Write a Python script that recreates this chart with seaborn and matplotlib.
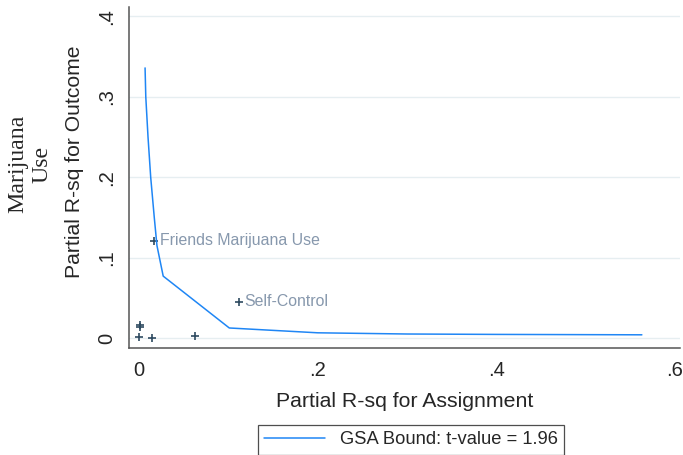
import pandas as pd
import matplotlib
matplotlib.use("Agg")
import matplotlib.pyplot as plt
import seaborn as sns

# GSA bound curve
bound_x = [0.0067, 0.0075, 0.010, 0.013, 0.017, 0.020, 0.027, 0.101, 0.20, 0.30, 0.40, 0.563]
bound_y = [0.336, 0.300, 0.250, 0.200, 0.150, 0.115, 0.077, 0.0125, 0.0065, 0.005, 0.0045, 0.004]

# covariate benchmarks
cov_x = [0.0168, 0.112, 0.0010, 0.0015, 0.0000, 0.0146, 0.063]
cov_y = [0.121, 0.045, 0.014, 0.016, 0.001, 0.000, 0.003]
cov_names = ["Friends Marijuana Use", "Self-Control", "", "", "", "", ""]

x_ticks = [0, 0.2, 0.4, 0.6]
x_labels = ["0", ".2", ".4", ".6"]
y_ticks = [0, 0.1, 0.2, 0.3, 0.4]
y_labels = ["0", ".1", ".2", ".3", ".4"]

sns.set_style("white")
plt.rcParams["font.family"] = ["Liberation Sans", "DejaVu Sans"]

fig = plt.figure(figsize=(6.83, 4.55), dpi=100)
ax = fig.add_axes([0.189, 0.235, 0.807, 0.750])

bound = pd.DataFrame({"x": bound_x, "y": bound_y})
covs = pd.DataFrame({"x": cov_x, "y": cov_y, "name": cov_names})

sns.lineplot(data=bound, x="x", y="y", ax=ax, color="#1f86f5", linewidth=1.1,
             sort=False, label="GSA Bound: t-value = 1.96", legend=False)
sns.scatterplot(data=covs, x="x", y="y", ax=ax, marker="+", s=30,
                color="#2e4a60", linewidth=1.2, legend=False)

for _, row in covs.iterrows():
    if row["name"]:
        ax.annotate(row["name"], (row["x"], row["y"]), xytext=(4, 0),
                    textcoords="offset points", va="center", ha="left",
                    fontsize=11.4, color="#8798ad")

ax.set_xlim(-0.0112, 0.606)
ax.set_ylim(-0.0125, 0.412)
ax.set_xticks(x_ticks)
ax.set_xticklabels(x_labels)
ax.set_yticks(y_ticks)
ax.set_yticklabels(y_labels, rotation=90, va="center")
ax.tick_params(axis="both", direction="out", length=5, width=1, color="#666666",
               labelsize=14.5, pad=4)
ax.grid(axis="y", color="#e6eef1", linewidth=1)
ax.set_axisbelow(True)

for side in ["top", "right"]:
    ax.spines[side].set_visible(False)
for side in ["left", "bottom"]:
    ax.spines[side].set_color("#555555")
    ax.spines[side].set_linewidth(1.1)

ax.set_xlabel("Partial R-sq for Assignment", fontsize=15.3, labelpad=9)
ax.set_ylabel("")

fig.text(75 / 683, 1 - 162 / 455, "Partial R-sq for Outcome", rotation=90,
         ha="center", va="center", fontsize=15.2)
fig.text(30 / 683, 1 - 164 / 455, "Marijuana\nUse", rotation=90, ha="center",
         va="center", fontsize=17.2, family=["Liberation Serif", "DejaVu Serif"],
         linespacing=1.2, multialignment="center")

handles, labels = ax.get_legend_handles_labels()
fig.legend(handles, labels, loc="upper center", bbox_to_anchor=(411 / 683, 1 - 425 / 455),
           fontsize=13.2, frameon=True, fancybox=False, edgecolor="#222222",
           handlelength=3.3, borderpad=0.35, borderaxespad=0)
leg = fig.legends[0]
leg.get_frame().set_linewidth(0.9)

fig.savefig("out.png", dpi=100)
